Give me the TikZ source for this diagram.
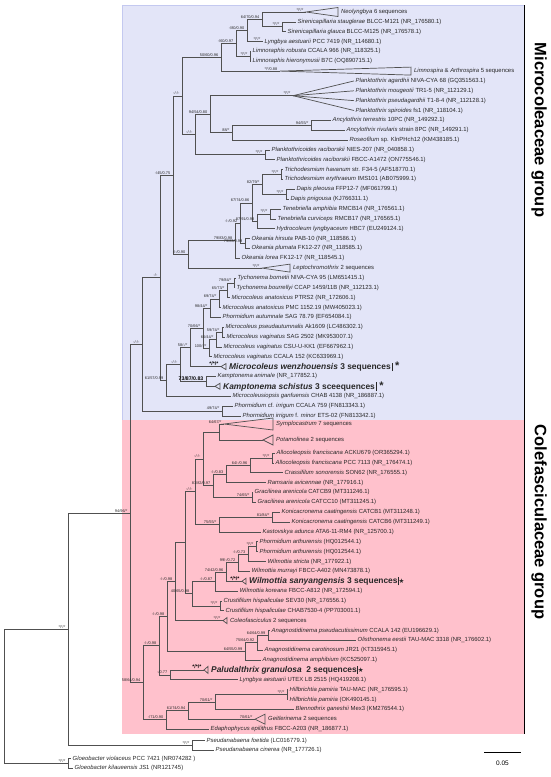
\documentclass[tikz,border=0pt]{standalone}
\usepackage{fontspec}
\setmainfont{Liberation Sans}
\newfontfamily\djv{DejaVu Sans}
\definecolor{bluebg}{RGB}{227,229,248}
\definecolor{blueln}{RGB}{196,201,240}
\definecolor{pinkbg}{RGB}{255,193,204}
\definecolor{treeln}{RGB}{80,80,80}
\definecolor{txt}{RGB}{40,40,40}
\newcommand{\mkLeaf}[4]{\coordinate (#1) at (#2,#3);\node[lf] (#1t) at ([xshift=1.5pt]#1) {#4};}
\newcommand{\mkNode}[3]{\coordinate (#1) at (#2,#3);}
\newcommand{\mkTri}[6]{\coordinate (#1) at (#2,#3);\draw[br] (#1) -- (#4,#3-#5) -- (#4,#3+#5) -- cycle;\node[lf] (#1t) at (#4+3,#3) {#6};}
\newcommand{\mkEdge}[2]{\draw[br] (#1) |- (#2);}
\newcommand{\mkSup}[2]{\node[sp] at ([xshift=-2.5pt,yshift=0.7pt]#1) {#2};}
\newcommand{\mkBSup}[2]{\node[bsp] at ([xshift=-2.5pt,yshift=0.7pt]#1) {#2};}
\newcommand{\mkBold}[1]{{\fontsize{8.4}{9}\selectfont\bfseries #1}}
\newcommand{\barstar}{\hspace{1.2pt}\rule[-1.5pt]{1.2pt}{8.5pt}\hspace{2pt}{\fontsize{11}{11}\selectfont\bfseries *}}
\newcommand{\barwstar}{\rule[-1.5pt]{1pt}{8.5pt}{\djv\fontsize{6.5}{6.5}\selectfont ★}}
\begin{document}
\begin{tikzpicture}[x=1pt,y=-1pt,
 br/.style={draw=treeln,line width=0.7pt},
 lf/.style={anchor=west,inner sep=0pt,text=txt,font=\fontsize{5.9}{6}\selectfont},
 sp/.style={anchor=south east,inner sep=0pt,text=txt,font=\fontsize{3.9}{4}\selectfont},
 bsp/.style={anchor=south east,inner sep=0pt,text=black,font=\bfseries\fontsize{5.2}{5.2}\selectfont},
 grp/.style={font=\bfseries\fontsize{16.5}{17}\selectfont,rotate=-90,inner sep=0pt}]
\useasboundingbox (0,0) rectangle (550,777);
\fill[white] (0,0) rectangle (550,777);
% group boxes
\filldraw[fill=bluebg,draw=blueln,line width=0.8pt] (122,5) rectangle (524,420);
\fill[pinkbg] (122,420) rectangle (524,734);
\draw[black,line width=1pt] (524,5) -- (524,420);
\draw[black,line width=1pt] (524,420) -- (524,734);
\node[grp] (g1) at (539,130) {Microcoleaceae group};
\node[grp] (g2) at (539,522) {Colefasciculaceae group};
% ---------------- blue leaves
\mkTri{b0}{306}{12.0}{338}{4.5}{\textit{Neolyngbya} 6 sequences}
\mkLeaf{b1}{296}{21.85}{\textit{Sirenicapillaria stauglerae} BLCC-M121 (NR\_176580.1)}
\mkLeaf{b2}{286}{31.7}{\textit{Sirenicapillaria glauca} BLCC-M125 (NR\_176578.1)}
\mkLeaf{b3}{263}{41.55}{\textit{Lyngbya aestuarii} PCC 7419 (NR\_114680.1)}
\mkLeaf{b4}{251}{51.4}{\textit{Limnoraphis robusta} CCALA 966 (NR\_118325.1)}
\mkLeaf{b5}{251}{61.25}{\textit{Limnoraphis hieronymusii} B7C (OQ890715.1)}
\mkTri{b6}{280}{71.1}{411}{4}{\textit{Limnospira} \& \textit{Arthrospira} 5 sequences}
\mkNode{Pk}{293}{95.7}
\mkLeaf{b7}{354}{80.95}{\textit{Planktothrix agardhii} NIVA-CYA 68 (GQ351563.1)}
\mkLeaf{b8}{354}{90.8}{\textit{Planktothrix mougeotii} TR1-5 (NR\_112129.1)}
\mkLeaf{b9}{354}{100.65}{\textit{Planktothrix pseudagardhii} T1-8-4 (NR\_112128.1)}
\mkLeaf{b10}{354}{110.5}{\textit{Planktothrix spiroides} fs1 (NR\_118104.1)}
\mkLeaf{b11}{331}{120.35}{\textit{Ancylothrix terrestris} 10PC (NR\_149292.1)}
\mkLeaf{b12}{345}{130.2}{\textit{Ancylothrix rivularis} strain 8PC (NR\_149291.1)}
\mkLeaf{b13}{348}{140.05}{\textit{Roseofilum} sp. KlnPHch12 (KM438185.1)}
\mkLeaf{b14}{270}{149.9}{\textit{Planktothricoides raciborskii} NIES-207 (NR\_040858.1)}
\mkLeaf{b15}{275}{159.75}{\textit{Planktothricoides raciborskii} FBCC-A1472 (ON775546.1)}
\mkLeaf{b16}{283}{169.6}{\textit{Trichodesmium havanum} str. F34-5 (AF518770.1)}
\mkLeaf{b17}{283}{179.45}{\textit{Trichodesmium erythraeum} IMS101 (AB075999.1)}
\mkLeaf{b18}{295}{189.3}{\textit{Dapis pleousa} FFP12-7 (MF061799.1)}
\mkLeaf{b19}{289}{199.15}{\textit{Dapis pnigousa} (KJ766311.1)}
\mkLeaf{b20}{281}{209.0}{\textit{Tenebriella amphibia} RMCB14 (NR\_176561.1)}
\mkLeaf{b21}{276}{218.85}{\textit{Tenebriella curviceps} RMCB17 (NR\_176565.1)}
\mkLeaf{b22}{275}{228.7}{\textit{Hydrocoleum lyngbyaceum} HBC7 (EU249124.1)}
\mkLeaf{b23}{250}{238.55}{\textit{Okeania hirsuta} PAB-10 (NR\_118586.1)}
\mkLeaf{b24}{250}{248.4}{\textit{Okeania plumata} FK12-27 (NR\_118585.1)}
\mkLeaf{b25}{240}{258.25}{\textit{Okeania lorea} FK12-17 (NR\_118545.1)}
\mkTri{b26}{262}{268.1}{290}{4}{\textit{Leptochromothrix} 2 sequences}
\mkLeaf{b27}{236}{277.95}{\textit{Tychonema bornetii} NIVA-CYA 95 (LM651415.1)}
\mkLeaf{b28}{235}{287.8}{\textit{Tychonema bourrellyi} CCAP 1459/11B (NR\_112123.1)}
\mkLeaf{b29}{230}{297.65}{\textit{Microcoleus anatoxicus} PTRS2 (NR\_172606.1)}
\mkLeaf{b30}{221}{307.5}{\textit{Microcoleus anatoxicus} PMC 1152.19 (MW405023.1)}
\mkLeaf{b31}{221}{317.35}{\textit{Phormidium autumnale} SAG 78.79 (EF654084.1)}
\mkLeaf{b32}{224}{327.2}{\textit{Microcoleus pseudautumnalis} Ak1609 (LC486302.1)}
\mkLeaf{b33}{225}{337.05}{\textit{Microcoleus vaginatus} SAG 2502 (MK953007.1)}
\mkLeaf{b34}{222}{346.9}{\textit{Microcoleus vaginatus} CSU-U-KK1 (EF667962.1)}
\mkLeaf{b35}{212}{356.75}{\textit{Microcoleus vaginatus} CCALA 152 (KC633969.1)}
\mkTri{b36}{221}{366.6}{226}{3}{\mkBold{\textit{Microcoleus wenzhouensis} 3 sequences}\barstar}
\mkLeaf{b37}{216}{376.45}{\textit{Kamptonema animale} (NR\_177852.1)}
\mkTri{b38}{215}{386.3}{220}{3}{\mkBold{\textit{Kamptonema schistus} 3 sceequences}\barstar}
\mkLeaf{b39}{231}{396.15}{\textit{Microcoleusiopsis ganfuensis} CHAB 4138 (NR\_186887.1)}
\mkLeaf{b40}{233}{406.0}{\textit{Phormidium} cf. \textit{irrigum} CCALA 759 (FN813343.1)}
\mkLeaf{b41}{241}{415.85}{\textit{Phormidium irrigum} f. \textit{minor} ETS-02 (FN813342.1)}
% ---------------- blue internal nodes
\mkNode{Sir}{282}{26.8}
\mkNode{A}{262}{19.4}
\mkNode{B}{247}{30.5}
\mkNode{D}{250}{56.3}
\mkNode{C}{236}{43.4}
\mkNode{E}{221}{57.3}
\mkNode{Anc}{311}{125.3}
\mkNode{H}{232}{132.7}
\mkNode{G}{210}{114.2}
\mkNode{Pl}{265}{154.8}
\mkNode{I}{195}{134.5}
\mkNode{F}{182}{95.9}
\mkNode{Tri}{281}{174.5}
\mkNode{Dap}{286}{194.2}
\mkNode{TD}{262}{184.4}
\mkNode{Ten}{270}{213.9}
\mkNode{TH}{257}{221.3}
\mkNode{N3}{252}{202.9}
\mkNode{Ok1}{245}{243.5}
\mkNode{N5}{240}{223.2}
\mkNode{N6}{235}{240.7}
\mkNode{W}{188}{254.4}
\mkNode{J}{173}{175.2}
\mkNode{Ty}{234}{282.9}
\mkNode{T2}{227}{290.3}
\mkNode{T3}{219}{298.9}
\mkNode{T4}{210}{308.2}
\mkNode{Mv1}{222}{332.1}
\mkNode{Mv2}{216}{339.5}
\mkNode{Mv3}{209}{348.1}
\mkNode{T5}{203}{328.2}
\mkNode{MW}{190}{347.4}
\mkNode{Kam}{206}{381.4}
\mkNode{V}{180}{364.4}
\mkNode{V2}{166}{380.3}
\mkNode{Q}{160}{277.7}
\mkNode{PIr}{222}{410.9}
\mkNode{Mr}{142}{344.3}
% ---------------- pink leaves
\mkTri{p0}{224}{424}{273}{6}{\textit{Symplocastrum} 7 sequences}
\mkTri{p1}{263}{440}{273}{5}{\textit{Potamolinea} 2 sequences}
\mkLeaf{p2}{275}{453.0}{\textit{Allocoleopsis franciscana}  ACKU679 (OR365294.1)}
\mkLeaf{p3}{274}{462.9}{\textit{Allocoleopsis franciscana} PCC 7113 (NR\_176474.1)}
\mkLeaf{p4}{283}{472.7}{\textit{Crassifilum sonorensis}  SON62 (NR\_176555.1)}
\mkLeaf{p5}{266}{482.6}{\textit{Ramsaria avicennae} (NR\_177916.1)}
\mkLeaf{p6}{253}{492.4}{\textit{Gracilinea arenicola} CATCB9 (MT311246.1)}
\mkLeaf{p7}{256}{502.3}{\textit{Gracilinea arenicola} CATCC10 (MT311245.1)}
\mkLeaf{p8}{280}{512.2}{\textit{Konicacronema caatingensis} CATCB1 (MT311248.1)}
\mkLeaf{p9}{290}{522.0}{\textit{Konicacronema caatingensis} CATCB6 (MT311249.1)}
\mkLeaf{p10}{261}{531.9}{\textit{Kastovskya adunca}  ATA6-11-RM4 (NR\_125700.1)}
\mkLeaf{p11}{258}{541.7}{\textit{Phormidium arthurensis} (HQ012544.1)}
\mkLeaf{p12}{258}{551.6}{\textit{Phormidium arthurensis} (HQ012544.1)}
\mkLeaf{p13}{266}{561.5}{\textit{Wilmottia stricta} (NR\_177922.1)}
\mkLeaf{p14}{250}{571.3}{\textit{Wilmottia murrayi} FBCC-A402 (MN473878.1)}
\mkTri{p15}{242}{581.2}{246}{3}{\mkBold{\textit{Wilmottia sanyangensis} 3 sequences}\barwstar}
\mkLeaf{p16}{238}{591.0}{\textit{Wilmottia koreana} FBCC-A812 (NR\_172594.1)}
\mkLeaf{p17}{222}{600.9}{\textit{Crustifilum hispaliculae} SEV30 (NR\_176556.1)}
\mkLeaf{p18}{224}{610.8}{\textit{Crustifilum hispaliculae}  CHAB7530-4 (PP703001.1)}
\mkTri{p19}{223}{620.6}{227}{3}{\textit{Coleofasciculus} 2 sequences}
\mkLeaf{p20}{270}{630.5}{\textit{Anagnostidinema pseudacutissimum} CCALA 142 (EU196629.1)}
\mkLeaf{p21}{356}{640.3}{\textit{Olisthonema eestii} TAU-MAC 3318 (NR\_176602.1)}
\mkLeaf{p22}{263}{650.2}{\textit{Anagnostidinema carotinosum} JR21 (KT315945.1)}
\mkLeaf{p23}{261}{660.0}{\textit{Anagnostidinema amphibium} (KC525097.1)}
\mkTri{p24}{204}{669.9}{208}{3.5}{\mkBold{\textit{Paludalthrix granulosa}\ \ 2 sequences}\barwstar}
\mkLeaf{p25}{238}{679.8}{\textit{Lyngbya aestuarii} UTEX LB 2515 (HQ419208.1)}
\mkLeaf{p26}{288}{689.6}{\textit{Hillbrichtia pamiria} TAU-MAC (NR\_176595.1)}
\mkLeaf{p27}{288}{699.5}{\textit{Hillbrichtia pamiria} (OK490145.1)}
\mkLeaf{p28}{294}{709.3}{\textit{Blennothrix ganeshii} Mex3 (KM276544.1)}
\mkTri{p29}{255}{719.2}{265}{5}{\textit{Geitlerinema} 2 sequences}
\mkLeaf{p30}{209}{729.0}{\textit{Edaphophycus epilithus} FBCC-A203 (NR\_186877.1)}
\mkLeaf{p31}{205}{740.5}{\textit{Pseudanabaena foetida} (LC016779.1)}
\mkLeaf{p32}{214}{750.3}{\textit{Pseudanabaena cinerea} (NR\_177726.1)}
\mkLeaf{q1}{71}{758.5}{\textit{Gloeobacter violaceus} PCC 7421 (NR074282 )}
\mkLeaf{q2}{73}{768.3}{\textit{Gloeobacter kilaueensis} JS1 (NR121745)}
% ---------------- pink internal nodes
\mkNode{SP}{219}{432}
\mkNode{Allo}{272}{458.0}
\mkNode{AC}{250}{465.4}
\mkNode{ACR}{226}{474.0}
\mkNode{Grac}{252}{497.4}
\mkNode{ACRG}{213}{485.7}
\mkNode{SPA}{203}{458.9}
\mkNode{Kon}{272}{517.1}
\mkNode{KK}{219}{524.5}
\mkNode{SKt}{195}{491.7}
\mkNode{PhA}{256}{546.7}
\mkNode{PW}{248}{554.1}
\mkNode{PWM}{238}{562.7}
\mkNode{PWMS}{226}{572.0}
\mkNode{PWMSK}{215}{581.5}
\mkNode{Cru}{220}{605.9}
\mkNode{WC}{192}{593.7}
\mkNode{SW}{185}{542.7}
\mkNode{SWC}{175}{581.7}
\mkNode{Aa}{268}{635.4}
\mkNode{Ab}{257}{642.8}
\mkNode{Ac}{245}{651.4}
\mkNode{Nd}{167}{616.6}
\mkNode{PL}{170}{674.9}
\mkNode{Nc}{159}{645.8}
\mkNode{Hill}{287}{694.6}
\mkNode{HB}{215}{702.0}
\mkNode{HBG}{188}{710.6}
\mkNode{Pt}{166}{719.8}
\mkNode{Pz}{143}{682.8}
\mkNode{X}{130}{513.6}
\mkNode{Ps}{192}{745.4}
\mkNode{Y}{68}{629.5}
\mkNode{Gl}{68}{763.4}
\mkNode{R}{4}{696.5}
% ---------------- edges blue
\mkEdge{Sir}{b1}\mkEdge{Sir}{b2}
\mkEdge{A}{b0}\mkEdge{A}{Sir}
\mkEdge{B}{A}\mkEdge{B}{b3}
\mkEdge{D}{b4}\mkEdge{D}{b5}
\mkEdge{C}{B}\mkEdge{C}{D}
\mkEdge{E}{C}\mkEdge{E}{b6}
\draw[br] (Pk) -- (b7); \draw[br] (Pk) -- (b8); \draw[br] (Pk) -- (b9); \draw[br] (Pk) -- (b10);
\mkEdge{Anc}{b11}\mkEdge{Anc}{b12}
\mkEdge{H}{Anc}\mkEdge{H}{b13}
\mkEdge{G}{Pk}\mkEdge{G}{H}
\mkEdge{Pl}{b14}\mkEdge{Pl}{b15}
\mkEdge{I}{G}\mkEdge{I}{Pl}
\mkEdge{F}{E}\mkEdge{F}{I}
\mkEdge{Tri}{b16}\mkEdge{Tri}{b17}
\mkEdge{Dap}{b18}\mkEdge{Dap}{b19}
\mkEdge{TD}{Tri}\mkEdge{TD}{Dap}
\mkEdge{Ten}{b20}\mkEdge{Ten}{b21}
\mkEdge{TH}{Ten}\mkEdge{TH}{b22}
\mkEdge{N3}{TD}\mkEdge{N3}{TH}
\mkEdge{Ok1}{b23}\mkEdge{Ok1}{b24}
\mkEdge{N5}{N3}\mkEdge{N5}{Ok1}
\mkEdge{N6}{N5}\mkEdge{N6}{b25}
\mkEdge{W}{N6}\mkEdge{W}{b26}
\mkEdge{J}{F}\mkEdge{J}{W}
\mkEdge{Ty}{b27}\mkEdge{Ty}{b28}
\mkEdge{T2}{Ty}\mkEdge{T2}{b29}
\mkEdge{T3}{T2}\mkEdge{T3}{b30}
\mkEdge{T4}{T3}\mkEdge{T4}{b31}
\mkEdge{Mv1}{b32}\mkEdge{Mv1}{b33}
\mkEdge{Mv2}{Mv1}\mkEdge{Mv2}{b34}
\mkEdge{Mv3}{Mv2}\mkEdge{Mv3}{b35}
\mkEdge{T5}{T4}\mkEdge{T5}{Mv3}
\mkEdge{MW}{T5}\mkEdge{MW}{b36}
\mkEdge{Kam}{b37}\mkEdge{Kam}{b38}
\mkEdge{V}{MW}\mkEdge{V}{Kam}
\mkEdge{V2}{V}\mkEdge{V2}{b39}
\mkEdge{Q}{J}\mkEdge{Q}{V2}
\mkEdge{PIr}{b40}\mkEdge{PIr}{b41}
\mkEdge{Mr}{Q}\mkEdge{Mr}{PIr}
% ---------------- edges pink
\mkEdge{SP}{p0}\mkEdge{SP}{p1}
\mkEdge{Allo}{p2}\mkEdge{Allo}{p3}
\mkEdge{AC}{Allo}\mkEdge{AC}{p4}
\mkEdge{ACR}{AC}\mkEdge{ACR}{p5}
\mkEdge{Grac}{p6}\mkEdge{Grac}{p7}
\mkEdge{ACRG}{ACR}\mkEdge{ACRG}{Grac}
\mkEdge{SPA}{SP}\mkEdge{SPA}{ACRG}
\mkEdge{Kon}{p8}\mkEdge{Kon}{p9}
\mkEdge{KK}{Kon}\mkEdge{KK}{p10}
\mkEdge{SKt}{SPA}\mkEdge{SKt}{KK}
\mkEdge{PhA}{p11}\mkEdge{PhA}{p12}
\mkEdge{PW}{PhA}\mkEdge{PW}{p13}
\mkEdge{PWM}{PW}\mkEdge{PWM}{p14}
\mkEdge{PWMS}{PWM}\mkEdge{PWMS}{p15}
\mkEdge{PWMSK}{PWMS}\mkEdge{PWMSK}{p16}
\mkEdge{Cru}{p17}\mkEdge{Cru}{p18}
\mkEdge{WC}{PWMSK}\mkEdge{WC}{Cru}
\mkEdge{SW}{SKt}\mkEdge{SW}{WC}
\mkEdge{SWC}{SW}\mkEdge{SWC}{p19}
\mkEdge{Aa}{p20}\mkEdge{Aa}{p21}
\mkEdge{Ab}{Aa}\mkEdge{Ab}{p22}
\mkEdge{Ac}{Ab}\mkEdge{Ac}{p23}
\mkEdge{Nd}{SWC}\mkEdge{Nd}{Ac}
\mkEdge{PL}{p24}\mkEdge{PL}{p25}
\mkEdge{Nc}{Nd}\mkEdge{Nc}{PL}
\mkEdge{Hill}{p26}\mkEdge{Hill}{p27}
\mkEdge{HB}{Hill}\mkEdge{HB}{p28}
\mkEdge{HBG}{HB}\mkEdge{HBG}{p29}
\mkEdge{Pt}{HBG}\mkEdge{Pt}{p30}
\mkEdge{Pz}{Nc}\mkEdge{Pz}{Pt}
\mkEdge{X}{Mr}\mkEdge{X}{Pz}
\mkEdge{Ps}{p31}\mkEdge{Ps}{p32}
\mkEdge{Y}{X}\mkEdge{Y}{Ps}
\mkEdge{Gl}{q1}\mkEdge{Gl}{q2}
\mkEdge{R}{Y}\mkEdge{R}{Gl}
% ---------------- support values blue
\mkSup{b0}{*/*/*}\mkSup{Sir}{*/*/*}\mkSup{A}{64/70/0.94}\mkSup{B}{-/80/0.90}
\mkSup{b3}{*/*/*}\mkSup{D}{*/*/*}\mkSup{C}{-/60/0.97}\mkSup{E}{50/60/0.96}
\mkSup{b6}{*/*/0.88}\mkSup{Pk}{*/*/*}\mkSup{Anc}{94/55/*}\mkSup{H}{88/*}
\mkSup{G}{94/54/0.80}\mkSup{Pl}{*/*/*}\mkSup{I}{-/-/-}\mkSup{F}{-/-/-}
\mkSup{Tri}{*/*/*}\mkSup{Dap}{*/*/*}\mkSup{TD}{82/79/*}\mkSup{Ten}{*/*/*}
\mkSup{TH}{87/91/0.98}\mkSup{N3}{67/74/0.86}\mkSup{Ok1}{79/83/0.99}\mkSup{N5}{-/-/0.92}
\mkSup{N6}{79/83/0.98}\mkSup{W}{-/-/0.90}\mkSup{J}{-/45/0.75}\mkSup{b26}{*/*/*}
\mkSup{Ty}{79/84/*}\mkSup{T2}{65/73/*}\mkSup{T3}{69/74/*}\mkSup{T4}{98/44/*}
\mkSup{Mv1}{59/74/*}\mkSup{Mv2}{66/44/*}\mkSup{Mv3}{100/-/*}\mkSup{T5}{70/66/*}
\mkSup{MW}{58/-/*}\mkBSup{b36}{*/*/*}\mkBSup{Kam}{73/87/0.83}\mkSup{V}{-/-/-}
\mkSup{V2}{61/57/0.99}\mkSup{Q}{-/-}\mkSup{PIr}{49/74/*}\mkSup{Mr}{-/-/-}
% ---------------- support values pink
\mkSup{p0}{64/67/*}\mkSup{Allo}{*/*/*}\mkSup{AC}{64/-/0.96}\mkSup{ACR}{-/-/0.83}
\mkSup{Grac}{74/65/*}\mkSup{ACRG}{81/82/0.97}\mkSup{SPA}{-/-/-}\mkSup{Kon}{81/84/*}
\mkSup{KK}{75/55/*}\mkSup{SKt}{-/-/-}\mkSup{PhA}{*/*/*}\mkSup{PW}{-/-/0.73}
\mkSup{PWM}{99/-/0.72}\mkSup{PWMS}{74/42/0.96}\mkSup{PWMSK}{-/-/0.87}\mkBSup{p15}{*/*/*}
\mkSup{WC}{40/65/0.98}\mkSup{Cru}{*/*/*}\mkSup{p19}{*/*/*}\mkSup{SWC}{-/-/0.98}
\mkSup{Aa}{64/64/0.99}\mkSup{Ab}{75/64/0.92}\mkSup{Ac}{64/55/0.99}\mkSup{Nd}{-/-/0.98}
\mkBSup{p24}{*/*/*}\mkSup{PL}{-/0.77}\mkSup{Nc}{-/-/0.98}\mkSup{Hill}{*/*/*}
\mkSup{HB}{70/61/*}\mkSup{p29}{70/61/*}\mkSup{HBG}{61/74/0.94}\mkSup{Pt}{-/71/0.90}
\mkSup{Pz}{58/64/0.94}\mkSup{X}{94/96/*}\mkSup{Ps}{*/*/*}\mkSup{Y}{*/*/*}\mkSup{Gl}{*/*/*}
% ---------------- scale bar
\coordinate (s1) at (484,752);
\coordinate (s2) at (521,752);
\draw[black,line width=0.9pt] (s1) -- (s2);
\node[font=\fontsize{6.5}{7}\selectfont,inner sep=0pt] (st) at (502.5,763) {0.05};
\end{tikzpicture}
\end{document}
